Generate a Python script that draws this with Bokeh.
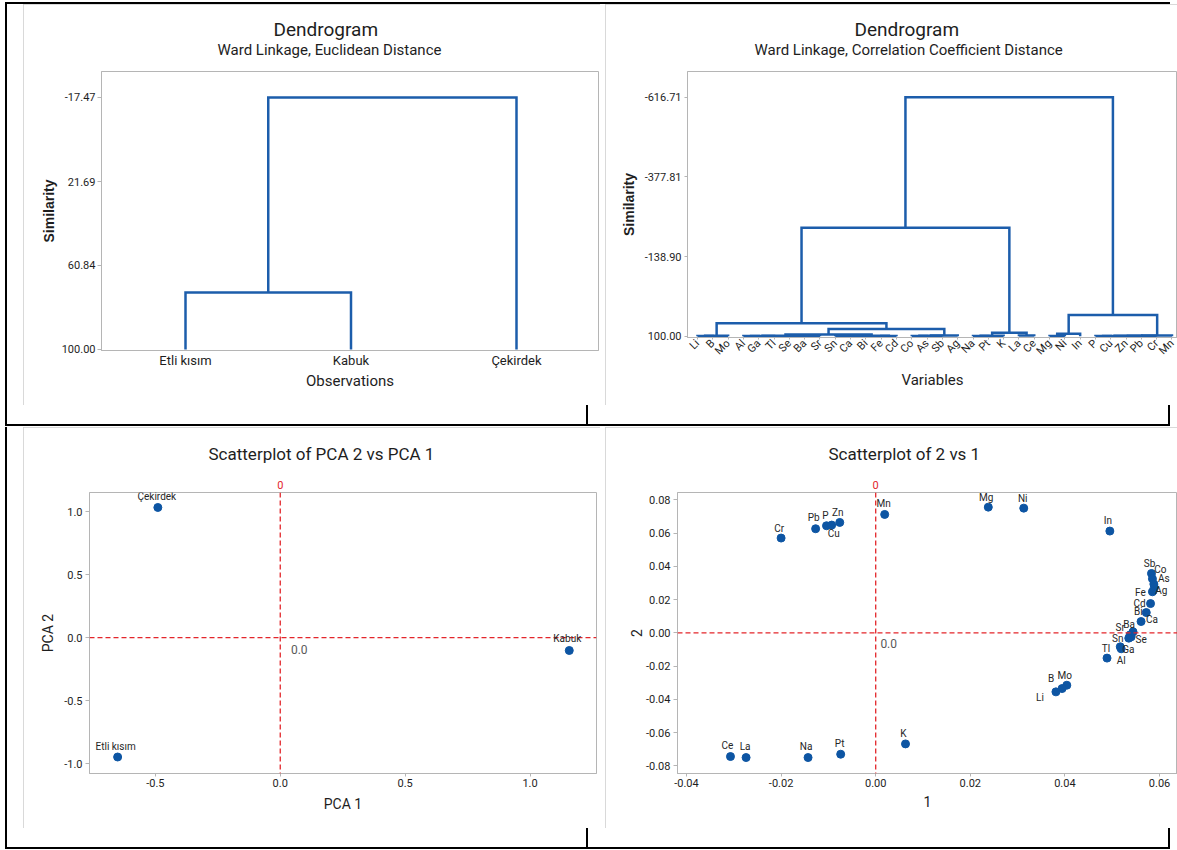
import math
from bokeh.plotting import figure
from bokeh.models import (Range1d, FixedTicker, PrintfTickFormatter, Title, Span, Label,
                          LabelSet, ColumnDataSource, Div, LinearAxis)
from bokeh.layouts import row, column
from bokeh.embed import file_html
from bokeh.resources import INLINE
from bokeh.core.properties import value

# ---------------------------------------------------------------- data
obs_labels = ["Etli kısım", "Kabuk", "Çekirdek"]
obs_linkage = [(0, 1, 73.43), (3, 2, -17.47)]
obs_ticks = [-17.47, 21.69, 60.84, 100.00]

var_labels = ["Li", "B", "Mo", "Al", "Ga", "Tl", "Se", "Ba", "Sr", "Sn", "Ca", "Bi", "Fe", "Cd",
              "Co", "As", "Sb", "Ag", "Na", "Pt", "K", "La", "Ce", "Mg", "Ni", "In",
              "P", "Cu", "Zn", "Pb", "Cr", "Mn"]
var_linkage = [
    ("Li", "B", 99.6), (32, "Mo", 98.9),
    ("Al", "Ga", 99.7), (34, "Tl", 99.2), ("Se", "Ba", 99.5), (36, "Sr", 99.0), (35, 37, 98.3),
    ("Sn", "Ca", 99.6), (39, "Bi", 99.1), ("Fe", "Cd", 99.4), (40, 41, 98.4), (38, 42, 95.0),
    ("Co", "As", 99.5), (44, "Sb", 99.0), (45, "Ag", 98.2), (43, 46, 78.1), (33, 47, 61.2),
    ("Na", "Pt", 99.3), (49, "K", 98.6), ("La", "Ce", 98.0), (50, 51, 89.5), (48, 52, -225.5),
    ("Mg", "Ni", 99.2), (54, "In", 93.0),
    ("P", "Cu", 99.7), (56, "Zn", 99.4), (57, "Pb", 99.0), (58, "Cr", 98.7), (59, "Mn", 98.0),
    (55, 60, 36.1), (53, 61, -616.71),
]
var_ticks = [-616.71, -377.81, -138.90, 100.00]

pca_obs = ["Çekirdek", "Etli kısım", "Kabuk"]
pca_1 = [-0.490, -0.651, 1.157]
pca_2 = [1.034, -0.948, -0.102]
pca_x_ticks = [-0.5, 0.0, 0.5, 1.0]
pca_y_ticks = [-1.0, -0.5, 0.0, 0.5, 1.0]

load_names = ["Cr", "Pb", "P", "Cu", "Zn", "Mn", "Mg", "Ni", "In", "Sb", "Co", "As", "Ag", "Fe",
              "Cd", "Bi", "Ca", "Ba", "Sr", "Se", "Sn", "Ga", "Al", "Tl", "Mo", "B", "Li",
              "K", "Pt", "Na", "La", "Ce"]
load_1 = [-0.0200, -0.0127, -0.0104, -0.0093, -0.0076, 0.0019, 0.0238, 0.0313, 0.0495, 0.0583,
          0.0585, 0.0588, 0.0589, 0.0585, 0.0581, 0.0572, 0.0561, 0.0544, 0.0538, 0.0540,
          0.0535, 0.0517, 0.0519, 0.0489, 0.0404, 0.0394, 0.0381, 0.0063, -0.0074, -0.0143,
          -0.0274, -0.0307]
load_2 = [0.0570, 0.0626, 0.0644, 0.0648, 0.0664, 0.0712, 0.0756, 0.0750, 0.0612, 0.0357,
          0.0325, 0.0293, 0.0272, 0.0247, 0.0176, 0.0122, 0.0068, 0.0006, -0.0012, -0.0024,
          -0.0032, -0.0084, -0.0096, -0.0152, -0.0315, -0.0335, -0.0355, -0.0668, -0.0730,
          -0.0750, -0.0750, -0.0744]
load_x_ticks = [-0.04, -0.02, 0.00, 0.02, 0.04, 0.06]
load_y_ticks = [-0.08, -0.06, -0.04, -0.02, 0.00, 0.02, 0.04, 0.06, 0.08]

# label placement around points (screen px: dx right, dy down)
load_label_offsets = {
    "Cr": (-2, -10), "Pb": (-2, -11), "P": (-1, -10), "Cu": (2, 8), "Zn": (-2, -10),
    "Mn": (-1, -11), "Mg": (-2, -10), "Ni": (-1, -10), "In": (-2, -11), "Sb": (-2, -10),
    "Co": (8, -9), "As": (10, -6), "Ag": (7, 3), "Fe": (-12, 1), "Cd": (-11, 0),
    "Bi": (-8, -1), "Ca": (11, -2), "Ba": (-4, -7), "Sr": (-10, -7), "Se": (10, 3),
    "Sn": (-11, 0), "Ga": (8, 3), "Al": (0, 12), "Tl": (-1, -10), "Mo": (-2, -10),
    "B": (-11, -10), "Li": (-16, 6), "K": (-2, -10), "Pt": (-1, -11), "Na": (-2, -11),
    "La": (-1, -11), "Ce": (-3, -11),
}
pca_label_offsets = {"Çekirdek": (-1, -11), "Etli kısım": (-2, -11), "Kabuk": (-2, -12)}

# ---------------------------------------------------------------- style
FONT = "Roboto"
BOLD_FONT = "Liberation Sans"
BLUE_LINE = "#1c5dab"
BLUE_DOT = "#0d55a3"
RED = "#e3262b"
FRAME = "#b5b5b5"
BORDER = "#cccccc"
TXT = "#1e1e1e"

XE = [0, 23, 600, 605, 1177]
YE = [0, 4, 405, 427, 828, 850]
COLW = [XE[i + 1] - XE[i] for i in range(4)]
ROWH = [YE[i + 1] - YE[i] for i in range(5)]


def make_fig(w, h, xr, yr, left, right, top, bottom):
    p = figure(width=w, height=h, x_range=xr, y_range=yr, title=None, tools="",
               toolbar_location=None, output_backend="svg",
               min_border_left=left, min_border_right=right,
               min_border_top=top, min_border_bottom=bottom, margin=0)
    p.grid.visible = False
    p.background_fill_color = "white"
    p.border_fill_color = "white"
    p.outline_line_color = FRAME
    p.outline_line_width = 1
    p.styles = {"outline": "1px solid " + BORDER, "outline-offset": "-1px"}
    for ax in (p.below[0], p.left[0]):
        ax.axis_line_color = FRAME
        ax.major_tick_line_color = FRAME
        ax.minor_tick_line_color = None
        ax.major_tick_in = 0
        ax.major_tick_out = 4
        ax.major_label_text_color = TXT
        ax.major_label_text_font = FONT
        ax.axis_label_text_color = TXT
        ax.axis_label_text_font = FONT
        ax.axis_label_text_font_style = "normal"
    return p


def title(text, size, left_offset, standoff):
    return Title(text=text, align="left", offset=left_offset, text_font=FONT,
                 text_font_size=size, text_font_style="normal", text_color=TXT,
                 standoff=standoff)


def dendro_paths(labels, linkage, leaf_h=100.0):
    n = len(labels)
    idx = {name: i for i, name in enumerate(labels)}
    pos = {i: float(i + 1) for i in range(n)}
    hgt = {i: leaf_h for i in range(n)}
    xs, ys = [], []
    for k, (a, b, h) in enumerate(linkage):
        a = idx[a] if isinstance(a, str) else a
        b = idx[b] if isinstance(b, str) else b
        xs.append([pos[a], pos[a], pos[b], pos[b]])
        ys.append([hgt[a], h, h, hgt[b]])
        pos[n + k] = (pos[a] + pos[b]) / 2.0
        hgt[n + k] = h
    return xs, ys


def dendro_panel(p, labels, linkage, ticks, xlabel, sub, main_off, sub_off,
                 xlab_size, xlab_orient, xtick_out, xlab_standoff, ytick_out, ylab_standoff):
    xs, ys = dendro_paths(labels, linkage)
    p.multi_line(xs, ys, line_color=BLUE_LINE, line_width=2.5, line_join="miter")
    xa, ya = p.below[0], p.left[0]
    xa.ticker = FixedTicker(ticks=[i + 1 for i in range(len(labels))])
    xa.major_label_overrides = {i + 1: s for i, s in enumerate(labels)}
    xa.major_label_text_font_size = xlab_size
    if xlab_orient:
        xa.major_label_orientation = xlab_orient
    xa.major_tick_out = xtick_out
    xa.major_label_standoff = 2
    xa.axis_label = xlabel
    xa.axis_label_text_font_size = "15px"
    xa.axis_label_standoff = xlab_standoff
    ya.ticker = FixedTicker(ticks=ticks)
    ya.formatter = PrintfTickFormatter(format="%.2f")
    ya.major_label_text_font_size = "11px"
    ya.major_tick_out = ytick_out
    ya.major_label_standoff = 6 - ytick_out
    ya.axis_label = "Similarity"
    ya.axis_label_text_font = BOLD_FONT
    ya.axis_label_text_font_size = "14px"
    ya.axis_label_text_font_style = "bold"
    ya.axis_label_standoff = ylab_standoff
    p.add_layout(title(sub, "15px", sub_off, 26), "above")
    p.add_layout(title("Dendrogram", "19px", main_off, -31), "above")


# ---------------------------------------------------------------- panel 1: dendrogram obs
tl = make_fig(COLW[1], ROWH[1], Range1d(0.4924, 3.4955), Range1d(100.47, -29.59),
              78, 2, 67, 55)
dendro_panel(tl, obs_labels, obs_linkage, obs_ticks, "Observations",
             "Ward Linkage, Euclidean Distance", 172, 116,
             "13px", None, 0, 1, 4, 2)

# ---------------------------------------------------------------- panel 2: dendrogram vars
tr = make_fig(COLW[3], ROWH[1], Range1d(0.3467, 32.36), Range1d(103.9, -693.8),
              82, 0, 67, 68)
dendro_panel(tr, var_labels, var_linkage, var_ticks, "Variables",
             "Ward Linkage, Correlation Coefficient Distance", 167, 67,
             "11px", math.pi / 4, 2, 6, 3, 5)


# ---------------------------------------------------------------- scatter panels
def scatter_panel(p, xv, yv, names, offsets, xticks, yticks, fmt, xlab, ylab,
                  xstand, ystand, title_text, title_off, center_dx, center_dy):
    src = ColumnDataSource(dict(x=xv, y=yv, name=names,
                                dx=[offsets[n][0] for n in names],
                                dy=[-offsets[n][1] for n in names]))
    p.add_layout(Span(location=0, dimension="height", line_color=RED, line_dash="5 3",
                      line_width=1.3))
    p.add_layout(Span(location=0, dimension="width", line_color=RED, line_dash="5 3",
                      line_width=1.3))
    p.scatter("x", "y", source=src, size=8, marker="circle", fill_color=BLUE_DOT,
              line_color=BLUE_DOT)
    p.add_layout(LabelSet(x="x", y="y", text="name", source=src, x_offset="dx",
                          y_offset="dy", text_align="center", text_baseline="middle",
                          text_font=value(FONT), text_font_size=value("10px"),
                          text_color="#262626"))
    xa, ya = p.below[0], p.left[0]
    xa.ticker = FixedTicker(ticks=xticks)
    xa.formatter = PrintfTickFormatter(format=fmt)
    ya.ticker = FixedTicker(ticks=yticks)
    ya.formatter = PrintfTickFormatter(format=fmt)
    for ax in (xa, ya):
        ax.major_label_text_font_size = "11px"
        ax.axis_label_text_font_size = "14px"
    xa.major_tick_out = 3
    xa.major_label_standoff = 2
    xa.axis_label = xlab
    xa.axis_label_standoff = xstand
    ya.major_tick_out = 4
    ya.major_label_standoff = 3
    ya.axis_label = ylab
    ya.axis_label_standoff = ystand
    # reference-line label above the frame, on an axis of its own
    zero_ax = LinearAxis(ticker=FixedTicker(ticks=[0]), axis_line_color=None,
                         major_tick_line_color=None, minor_tick_line_color=None,
                         major_tick_out=0, major_tick_in=0, major_label_standoff=4,
                         major_label_text_color=RED, major_label_text_font=FONT,
                         major_label_text_font_size="11px")
    p.add_layout(zero_ax, "above")
    p.add_layout(title(title_text, "17px", title_off, 28), "above")
    p.add_layout(Label(x=0, y=0, text="0.0", x_offset=center_dx, y_offset=-center_dy,
                       text_align="center", text_baseline="middle", text_color="#5a5a5a",
                       text_font=FONT, text_font_size="12px"))


bl = make_fig(COLW[1], ROWH[3], Range1d(-0.7636, 1.266), Range1d(-1.079, 1.153),
              66, 4, 65, 55)
scatter_panel(bl, pca_1, pca_2, pca_obs, pca_label_offsets, pca_x_ticks, pca_y_ticks,
              "%.1f", "PCA 1", "PCA 2", 6, 5, "Scatterplot of PCA 2 vs PCA 1", 119, 19, 12)

br = make_fig(COLW[3], ROWH[3], Range1d(-0.0419, 0.0638), Range1d(-0.0846, 0.0844),
              72, 0, 65, 55)
scatter_panel(br, load_1, load_2, load_names, load_label_offsets, load_x_ticks, load_y_ticks,
              "%.2f", "1", "2", 6, 1, "Scatterplot of 2 vs 1", 151, 13, 11)


# ---------------------------------------------------------------- table lines
def strip(w, h, rects):
    layers = ", ".join("linear-gradient(#000, #000)" for _ in rects)
    pos = ", ".join("%dpx %dpx" % (r[0], r[1]) for r in rects)
    size = ", ".join("%dpx %dpx" % (r[2], r[3]) for r in rects)
    styles = {"background-color": "#ffffff"}
    if rects:
        styles.update({"background-image": layers, "background-position": pos,
                       "background-size": size, "background-repeat": "no-repeat"})
    return Div(text="", width=w, height=h, margin=0, styles=styles)


LX, MX, RX = 5, 586, 1168
LINE_W = RX + 2 - LX
top_strip = strip(1177, ROWH[0], [(LX, 2, LINE_W, 2)])
gap_rects = [(LX, 0, 2, 21), (MX, 0, 2, 21), (RX, 0, 2, 21), (LX, 19, LINE_W, 2)]
gap_strip = strip(1177, ROWH[2], gap_rects)
bottom_strip = strip(1177, ROWH[4], gap_rects)


def side(h):
    return strip(COLW[0], h, [(LX, 0, 2, h)])


def mid(h):
    return strip(COLW[2], h, [])


def box(p):
    return column(p, spacing=0, margin=0)


layout = column(
    top_strip,
    row(side(ROWH[1]), box(tl), mid(ROWH[1]), box(tr), spacing=0, margin=0),
    gap_strip,
    row(side(ROWH[3]), box(bl), mid(ROWH[3]), box(br), spacing=0, margin=0),
    bottom_strip,
    spacing=0, margin=0,
)

open("out.html", "w").write(file_html(layout, INLINE))
